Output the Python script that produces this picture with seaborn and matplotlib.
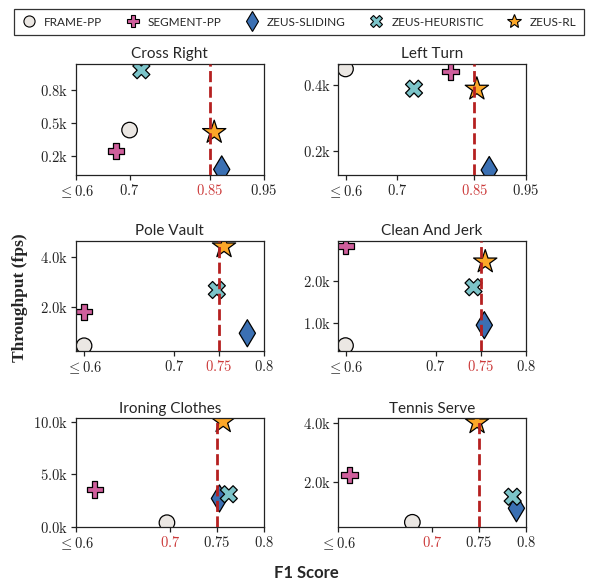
import numpy as np
import pandas as pd
import matplotlib
matplotlib.use("Agg")
import matplotlib.pyplot as plt
import seaborn as sns
from matplotlib.lines import Line2D

# ---------------- data ----------------
tasks = ["Cross Right", "Left Turn", "Pole Vault", "Clean And Jerk",
         "Ironing Clothes", "Tennis Serve"]
methods = ["Frame-PP", "Segment-PP", "Zeus-Sliding", "Zeus-Heuristic", "Zeus-RL"]

frame_f1 = [0.700, 0.600, 0.600, 0.600, 0.697, 0.679]
frame_fps = [434, 448, 440, 450, 435, 625]
segment_f1 = [0.675, 0.804, 0.600, 0.600, 0.620, 0.612]
segment_fps = [243, 440, 1800, 2840, 3580, 2230]
sliding_f1 = [0.872, 0.879, 0.782, 0.754, 0.753, 0.790]
sliding_fps = [75, 141, 940, 940, 2730, 1100]
heuristic_f1 = [0.722, 0.733, 0.748, 0.742, 0.763, 0.786]
heuristic_fps = [980, 388, 2670, 1850, 3130, 1490]
rl_f1 = [0.858, 0.855, 0.756, 0.755, 0.757, 0.748]
rl_fps = [413, 387, 4400, 2460, 10000, 4000]

xlims = [(0.6, 0.95), (0.586, 0.95), (0.591, 0.8), (0.592, 0.8), (0.6, 0.8), (0.6, 0.8)]
ylims = [(24, 1037), (126, 463), (230, 4630), (320, 2960), (0, 10320), (455, 4150)]

xticks = [[0.6, 0.7, 0.85, 0.95], [0.6, 0.7, 0.85, 0.95],
          [0.6, 0.7, 0.75, 0.8], [0.6, 0.7, 0.75, 0.8],
          [0.6, 0.7, 0.75, 0.8], [0.6, 0.7, 0.75, 0.8]]
xticklabels = [[r"$\leq 0.6$", r"$0.7$", r"$0.85$", r"$0.95$"],
               [r"$\leq 0.6$", r"$0.7$", r"$0.85$", r"$0.95$"],
               [r"$\leq 0.6$", r"$0.7$", r"$0.75$", r"$0.8$"],
               [r"$\leq 0.6$", r"$0.7$", r"$0.75$", r"$0.8$"],
               [r"$\leq 0.6$", r"$0.7$", r"$0.75$", r"$0.8$"],
               [r"$\leq 0.6$", r"$0.7$", r"$0.75$", r"$0.8$"]]
red_tick_index = [2, 2, 2, 2, 1, 1]
threshold = [0.85, 0.85, 0.75, 0.75, 0.75, 0.75]
yticks = [[200, 500, 800], [200, 400], [2000, 4000], [1000, 2000],
          [0, 5000, 10000], [2000, 4000]]
yticklabels = [[r"$0.2\mathrm{k}$", r"$0.5\mathrm{k}$", r"$0.8\mathrm{k}$"],
               [r"$0.2\mathrm{k}$", r"$0.4\mathrm{k}$"],
               [r"$2.0\mathrm{k}$", r"$4.0\mathrm{k}$"],
               [r"$1.0\mathrm{k}$", r"$2.0\mathrm{k}$"],
               [r"$0.0\mathrm{k}$", r"$5.0\mathrm{k}$", r"$10.0\mathrm{k}$"],
               [r"$2.0\mathrm{k}$", r"$4.0\mathrm{k}$"]]

# ---------------- style ----------------
sns.set_style("ticks")
plt.rcParams["font.family"] = ["Lato", "DejaVu Sans"]
plt.rcParams["mathtext.fontset"] = "cm"

palette = {"Frame-PP": "#ebe7e3", "Segment-PP": "#cf5f9c", "Zeus-Sliding": "#3b70b3",
           "Zeus-Heuristic": "#7cc4c9", "Zeus-RL": "#fca728"}
markers = {"Frame-PP": "o", "Segment-PP": "P", "Zeus-Sliding": "d",
           "Zeus-Heuristic": "X", "Zeus-RL": "*"}
sizes = {"Frame-PP": 125, "Segment-PP": 140, "Zeus-Sliding": 190,
         "Zeus-Heuristic": 150, "Zeus-RL": 310}
red_text = "#cc3a3a"
red_line = "#b52020"

rows = []
for i, t in enumerate(tasks):
    for m, f1s, fpss in [("Frame-PP", frame_f1, frame_fps),
                         ("Segment-PP", segment_f1, segment_fps),
                         ("Zeus-Sliding", sliding_f1, sliding_fps),
                         ("Zeus-Heuristic", heuristic_f1, heuristic_fps),
                         ("Zeus-RL", rl_f1, rl_fps)]:
        rows.append({"task": t, "method": m, "f1": f1s[i], "fps": fpss[i]})
df = pd.DataFrame(rows)

fig = plt.figure(figsize=(5.92, 5.88), dpi=100)
col_left = [76 / 592, 338.3 / 592]
width = 187.5 / 592
row_bottom = [1 - 175 / 588, 1 - 351 / 588, 1 - 527.3 / 588]
row_h = [111 / 588, 110 / 588, 109 / 588]

for i, t in enumerate(tasks):
    r, c = divmod(i, 2)
    ax = fig.add_axes([col_left[c], row_bottom[r], width, row_h[r]])
    sub = df[df["task"] == t]
    sns.scatterplot(data=sub, x="f1", y="fps", hue="method", style="method",
                    size="method", palette=palette, markers=markers, sizes=sizes,
                    hue_order=methods, style_order=methods, size_order=methods,
                    edgecolor="black", linewidth=0.9, legend=False, ax=ax, zorder=2)
    ax.axvline(threshold[i], color=red_line, lw=2.0, ls=(0, (4, 1.6)), zorder=3)
    ax.set_xlim(*xlims[i])
    ax.set_ylim(*ylims[i])
    ax.set_xticks(xticks[i])
    ax.set_xticklabels(xticklabels[i], fontsize=10.5)
    ax.set_yticks(yticks[i])
    ax.set_yticklabels(yticklabels[i], fontsize=10.5)
    ax.set_xlabel("")
    ax.set_ylabel("")
    ax.set_title(t, fontsize=11, pad=4)
    for sp in ax.spines.values():
        sp.set_linewidth(0.9)
        sp.set_color("#222222")
    ax.tick_params(direction="out", length=3.5, width=0.9, pad=2, colors="#222222")
    ax.get_xticklabels()[red_tick_index[i]].set_color(red_text)

fig.text(20 / 592, 1 - 298 / 588, "Throughput (fps)", rotation=90, ha="center",
         va="center", fontsize=12.5, fontweight="bold", family="Liberation Serif")
fig.text(306 / 592, 1 - 573 / 588, "F1 Score", ha="center", va="center",
         fontsize=12, fontweight="bold")

handles = []
for m in methods:
    handles.append(Line2D([], [], ls="", marker=markers[m], markerfacecolor=palette[m],
                          markeredgecolor="black", markeredgewidth=0.8,
                          markersize={"o": 8, "P": 9, "d": 10, "X": 9, "*": 10}[markers[m]]))
leg = fig.legend(handles, [m.upper() for m in methods], loc="upper center",
                 bbox_to_anchor=(0.505, 0.995), ncol=5, frameon=True, fancybox=False,
                 edgecolor="black", fontsize=8.5, handletextpad=0.7,
                 columnspacing=1.95, borderpad=0.65, handlelength=1.2)
leg.get_frame().set_linewidth(0.9)

fig.savefig("out.png", dpi=100)
